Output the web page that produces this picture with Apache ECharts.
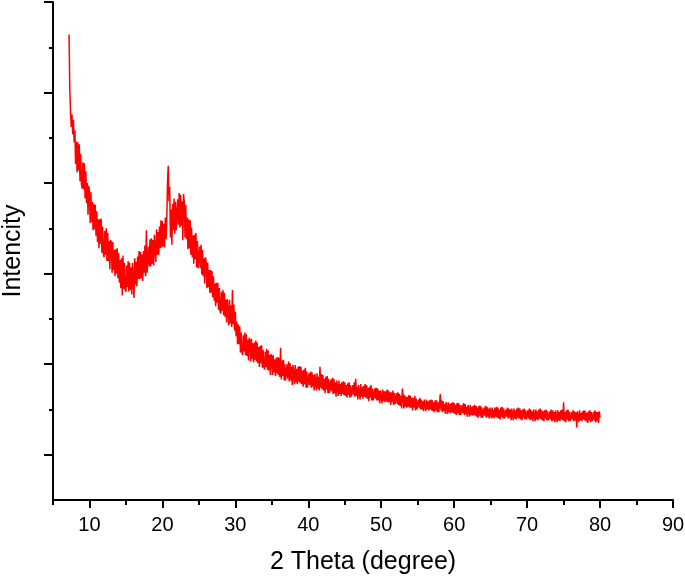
<!DOCTYPE html>
<html>
<head>
<meta charset="utf-8">
<title>XRD pattern</title>
<script src="https://cdn.jsdelivr.net/npm/echarts@6/dist/echarts.min.js"></script>
<style>
    html, body { margin: 0; padding: 0; background: #fff; }
    #chart { width: 685px; height: 579px; }
</style>
</head>
<body>
<div id="chart"></div>
<script>
// scan step of the diffractogram (degrees 2θ)
const STEP = 0.1;

// intensity (arbitrary units), one row per degree
const lowAngleStart = 7.2;
const lowAngle = [
    5.14, 4.55, 4.30, 4.12, 4.26, 4.04, 4.20, 3.95,
    4.08, 3.71, 3.96, 3.62, 3.95, 3.64, 3.93, 3.52, 3.82, 3.49,
    3.44, 3.73, 3.43, 3.72, 3.33, 3.63, 3.28, 3.50, 3.15, 3.47,
    3.41, 3.06, 3.40, 3.07, 3.29, 2.98, 3.27, 2.99, 3.26, 2.92,
    3.19, 2.85, 3.10, 2.78, 3.10, 2.83, 3.11, 2.73, 3.02, 2.72,
    2.68, 2.97, 2.71, 3.00, 2.64, 2.95, 2.64, 2.86, 2.55, 2.87,
    2.84, 2.51, 2.85, 2.54, 2.76, 2.47, 2.77, 2.50, 2.78, 2.45,
    2.73, 2.40, 2.65, 2.34, 2.67, 2.26, 2.70, 2.33, 2.62, 2.33
];

const humpStart = 15.0;
const hump = [
    2.30, 2.59, 2.35, 2.64, 2.30, 2.62, 2.32, 2.57, 2.27, 2.62,
    2.61, 2.23, 2.67, 2.38, 2.63, 2.36, 2.69, 2.44, 2.75, 2.44,
    2.74, 2.45, 2.71, 2.42, 2.75, 2.51, 2.81, 2.47, 2.98, 2.51,
    2.50, 2.80, 2.58, 2.88, 2.58, 2.89, 2.61, 2.87, 2.59, 2.93,
    2.93, 2.63, 2.99, 2.71, 2.96, 2.71, 3.02, 2.78, 3.09, 2.79,
    3.08, 2.80, 3.05, 2.79, 3.12, 2.88, 3.10, 3.50, 3.69, 3.30,
    3.46, 2.90, 3.21, 2.82, 3.27, 2.98, 3.33, 2.94, 3.29, 2.98,
    2.97, 3.32, 3.04, 3.39, 3.01, 3.37, 3.03, 3.30, 2.87, 3.38,
    3.29, 2.90, 3.26, 2.88, 3.12, 2.77, 3.10, 2.78, 3.09, 2.71,
    3.01, 2.68, 2.92, 2.61, 2.93, 2.66, 2.95, 2.57, 2.86, 2.56
];

const decayStart = 25.0;
const decay = [
    2.55, 2.80, 2.56, 2.82, 2.49, 2.76, 2.47, 2.67, 2.39, 2.68,
    2.63, 2.34, 2.62, 2.35, 2.54, 2.29, 2.54, 2.29, 2.53, 2.24,
    2.47, 2.20, 2.39, 2.14, 2.40, 2.18, 2.40, 2.10, 2.34, 2.09,
    2.06, 2.30, 2.09, 2.32, 2.04, 2.29, 2.02, 2.21, 1.96, 2.22,
    2.20, 1.93, 2.21, 1.95, 2.15, 1.91, 2.32, 1.94, 2.16, 1.87,
    2.08, 1.81, 1.97, 1.72, 1.94, 1.72, 1.92, 1.63, 1.85, 1.63,
    1.60, 1.82, 1.64, 1.85, 1.60, 1.83, 1.59, 1.77, 1.54, 1.79,
    1.76, 1.53, 1.78, 1.56, 1.73, 1.52, 1.74, 1.55, 1.76, 1.53,
    1.74, 1.51, 1.69, 1.47, 1.70, 1.51, 1.71, 1.46, 1.66, 1.47,
    1.44, 1.64, 1.47, 1.67, 1.44, 1.65, 1.43, 1.60, 1.38, 1.61,
    1.58, 1.38, 1.60, 1.41, 1.55, 1.37, 1.57, 1.40, 1.58, 1.38,
    1.57, 1.36, 1.68, 1.33, 1.54, 1.37, 1.55, 1.32, 1.50, 1.32,
    1.31, 1.50, 1.34, 1.53, 1.31, 1.51, 1.32, 1.47, 1.27, 1.49,
    1.47, 1.28, 1.49, 1.30, 1.45, 1.28, 1.47, 1.31, 1.48, 1.29,
    1.47, 1.28, 1.43, 1.25, 1.44, 1.28, 1.46, 1.24, 1.42, 1.24
];

const tailStart = 40.0;
const tail = [
    1.24, 1.40, 1.27, 1.42, 1.24, 1.41, 1.25, 1.38, 1.21, 1.39,
    1.38, 1.21, 1.40, 1.23, 1.36, 1.21, 1.47, 1.24, 1.39, 1.22,
    1.38, 1.21, 1.34, 1.18, 1.36, 1.22, 1.37, 1.18, 1.34, 1.18,
    1.17, 1.33, 1.20, 1.35, 1.17, 1.34, 1.18, 1.30, 1.14, 1.32,
    1.30, 1.15, 1.32, 1.17, 1.28, 1.15, 1.30, 1.17, 1.31, 1.16,
    1.30, 1.15, 1.27, 1.13, 1.29, 1.16, 1.30, 1.13, 1.27, 1.14,
    1.13, 1.27, 1.16, 1.30, 1.14, 1.34, 1.15, 1.25, 1.11, 1.27,
    1.26, 1.11, 1.28, 1.14, 1.25, 1.12, 1.26, 1.14, 1.28, 1.13,
    1.27, 1.12, 1.24, 1.09, 1.25, 1.13, 1.27, 1.10, 1.23, 1.10,
    1.10, 1.23, 1.12, 1.24, 1.10, 1.23, 1.10, 1.21, 1.07, 1.21,
    1.21, 1.07, 1.22, 1.09, 1.20, 1.08, 1.20, 1.09, 1.22, 1.08,
    1.21, 1.08, 1.19, 1.05, 1.19, 1.08, 1.21, 1.05, 1.18, 1.06,
    1.05, 1.18, 1.06, 1.19, 1.05, 1.17, 1.04, 1.15, 1.01, 1.23,
    1.15, 1.01, 1.16, 1.03, 1.14, 1.02, 1.14, 1.03, 1.16, 1.02,
    1.15, 1.02, 1.13, 0.99, 1.13, 1.02, 1.15, 0.99, 1.12, 1.00,
    1.00, 1.11, 1.02, 1.13, 1.00, 1.11, 1.00, 1.09, 0.98, 1.11,
    1.10, 0.98, 1.11, 1.00, 1.09, 0.99, 1.10, 1.00, 1.11, 0.99,
    1.10, 0.98, 1.08, 0.97, 1.10, 0.99, 1.10, 0.97, 1.08, 0.97,
    0.97, 1.17, 0.99, 1.10, 0.97, 1.09, 0.98, 1.06, 0.95, 1.08,
    1.07, 0.95, 1.08, 0.97, 1.06, 0.96, 1.07, 0.97, 1.08, 0.96,
    1.07, 0.95, 1.05, 0.94, 1.07, 0.96, 1.07, 0.94, 1.05, 0.94,
    0.94, 1.05, 0.96, 1.07, 0.94, 1.06, 0.95, 1.03, 0.92, 1.05,
    1.04, 0.92, 1.05, 0.94, 1.03, 0.93, 1.04, 0.94, 1.05, 0.93,
    1.04, 0.92, 1.02, 0.91, 1.04, 0.93, 1.04, 0.91, 1.02, 0.91,
    0.91, 1.02, 0.93, 1.04, 0.91, 1.03, 0.92, 1.01, 0.90, 1.02,
    1.01, 0.90, 1.02, 0.91, 1.00, 0.90, 1.02, 0.92, 1.03, 0.91,
    1.02, 0.90, 1.00, 0.89, 1.02, 0.92, 1.03, 0.90, 1.01, 0.90,
    0.90, 1.00, 0.92, 1.02, 0.90, 1.01, 0.91, 1.00, 0.88, 1.01,
    1.00, 0.88, 1.01, 0.90, 0.99, 0.89, 1.01, 0.91, 1.02, 0.90,
    1.01, 0.89, 0.99, 0.88, 1.00, 0.91, 1.01, 0.89, 0.99, 0.89,
    0.88, 0.99, 0.90, 1.01, 0.88, 1.00, 0.89, 0.98, 0.87, 1.00,
    0.99, 0.87, 1.00, 0.89, 0.98, 0.88, 1.00, 0.90, 1.01, 0.89,
    0.99, 0.88, 0.98, 0.87, 0.99, 0.90, 1.00, 0.88, 0.98, 0.88,
    0.87, 0.98, 0.89, 1.00, 0.87, 0.99, 0.88, 0.97, 0.86, 0.99,
    0.98, 0.86, 0.99, 0.88, 0.97, 0.87, 0.99, 0.89, 1.00, 0.88,
    1.08, 0.87, 0.97, 0.86, 0.99, 0.89, 1.00, 0.87, 0.98, 0.87,
    0.87, 0.97, 0.89, 0.99, 0.87, 0.98, 0.88, 0.97, 0.80, 0.98,
    0.97, 0.86, 0.99, 0.88, 0.96, 0.87, 0.98, 0.89, 0.99, 0.88,
    0.98, 0.87, 0.96, 0.85, 0.98, 0.88, 0.99, 0.86, 0.97, 0.87,
    0.86, 0.97, 0.88, 0.99, 0.86, 0.97, 0.87, 0.97, 0.85, 0.98,
    0.91
];

// axis ticks
const xLabels = [10, 20, 30, 40, 50, 60, 70, 80, 90];
const xMinorTicks = [5, 15, 25, 35, 45, 55, 65, 75, 85];
const yMajorTicks = [0.5, 1.5, 2.5, 3.5, 4.5, 5.5];
const yMinorTicks = [1, 2, 3, 4, 5];

function toPairs(start, values) {
    return values.map((v, i) => [Math.round((start + i * STEP) * 10) / 10, v]);
}

const pattern = []
    .concat(toPairs(lowAngleStart, lowAngle))
    .concat(toPairs(humpStart, hump))
    .concat(toPairs(decayStart, decay))
    .concat(toPairs(tailStart, tail));

const FONT = '"Liberation Sans", Arial, sans-serif';
const axisBlack = { color: '#000', width: 2 };

const chart = echarts.init(document.getElementById('chart'));
chart.setOption({
    animation: false,
    backgroundColor: '#fff',
    grid: { left: 53, right: 12, top: 2, bottom: 79, outerBoundsMode: 'none' },
    xAxis: [{
        type: 'value',
        min: 5,
        max: 90,
        position: 'bottom',
        axisLine: { lineStyle: axisBlack },
        axisTick: { customValues: xLabels, length: 8, lineStyle: axisBlack },
        axisLabel: {
            customValues: xLabels,
            fontSize: 20, color: '#000', fontFamily: FONT, margin: 15
        },
        splitLine: { show: false },
        name: '2 Theta (degree)',
        nameLocation: 'middle',
        nameGap: 50,
        nameTextStyle: { fontSize: 25, color: '#000', fontFamily: FONT }
    }, {
        type: 'value',
        min: 5,
        max: 90,
        position: 'bottom',
        axisLine: { show: false },
        axisTick: { customValues: xMinorTicks, length: 5, lineStyle: axisBlack },
        axisLabel: { show: false },
        splitLine: { show: false }
    }],
    yAxis: [{
        type: 'value',
        min: 0,
        max: 5.5,
        position: 'left',
        axisLine: { show: true, lineStyle: axisBlack },
        axisTick: { show: true, customValues: yMajorTicks, length: 9, lineStyle: axisBlack },
        axisLabel: { show: false },
        splitLine: { show: false },
        name: 'Intencity',
        nameLocation: 'middle',
        nameRotate: 90,
        nameGap: 27,
        nameTextStyle: { fontSize: 25, color: '#000', fontFamily: FONT }
    }, {
        type: 'value',
        min: 0,
        max: 5.5,
        position: 'left',
        axisLine: { show: false },
        axisTick: { show: true, customValues: yMinorTicks, length: 4, lineStyle: axisBlack },
        axisLabel: { show: false },
        splitLine: { show: false }
    }],
    series: [{
        type: 'line',
        xAxisIndex: 0,
        yAxisIndex: 0,
        data: pattern,
        showSymbol: false,
        symbol: 'none',
        lineStyle: { color: '#ff0000', width: 1.5 },
        itemStyle: { color: '#ff0000' }
    }]
});
</script>
</body>
</html>
